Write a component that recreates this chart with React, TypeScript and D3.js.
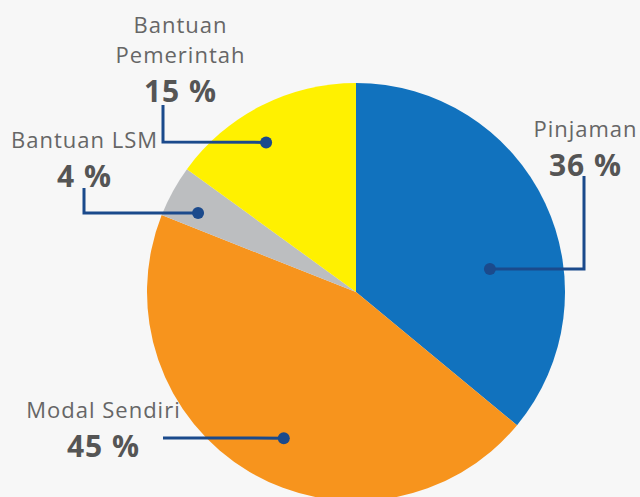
import * as d3 from "d3";
import { useEffect, useRef } from "react";

const WIDTH = 640;
const HEIGHT = 497;
const CX = 356;
const CY = 292;
const RADIUS = 209;

// Slices in drawing order, clockwise from 12 o'clock.
const CATEGORIES = ["Pinjaman", "Modal Sendiri", "Bantuan LSM", "Bantuan Pemerintah"];
const VALUES = [36, 45, 4, 15];
const COLORS = ["#1172be", "#f7941d", "#bcbec0", "#fff100"];
// Label lines (category names can wrap).
const LABEL_LINES = [["Pinjaman"], ["Modal Sendiri"], ["Bantuan LSM"], ["Bantuan", "Pemerintah"]];

// Leader layout: dot in polar terms (deg clockwise from top, radius fraction),
// then an elbow to the label block.
const LEADERS = [
  { angle: 80.3, rf: 0.65, elbow: [584, 269], end: [584, 176], text: [585, 137] },
  { angle: 206.3, rf: 0.78, elbow: [163, 438], end: [163, 438], text: [103, 418] },
  { angle: 296.6, rf: 0.845, elbow: [84, 213], end: [84, 188], text: [84, 148] },
  { angle: 329, rf: 0.835, elbow: [163, 142], end: [163, 105], text: [180, 63] },
];

const LINE_COLOR = "#1b4a8c";
const NAME_SPACING = 1;
const VALUE_SPACING = 1;

export default function App() {
  const ref = useRef<SVGSVGElement>(null);

  useEffect(() => {
    const svg = d3.select(ref.current);
    svg.selectAll("*").remove();
    svg.append("rect").attr("width", WIDTH).attr("height", HEIGHT).attr("fill", "#f7f7f7");

    const pie = d3.pie<number>().sort(null).value((d) => d);
    const arcs = pie(VALUES);
    const arc = d3.arc<d3.PieArcDatum<number>>().innerRadius(0).outerRadius(RADIUS);

    const g = svg.append("g").attr("transform", `translate(${CX},${CY})`);
    g.selectAll("path")
      .data(arcs)
      .join("path")
      .attr("d", arc)
      .attr("fill", (_, i) => COLORS[i]);

    const font = "'Open Sans', 'Noto Sans', sans-serif";
    CATEGORIES.forEach((name, i) => {
      const L = LEADERS[i];
      const a = (L.angle * Math.PI) / 180;
      const dx = CX + Math.sin(a) * RADIUS * L.rf;
      const dy = CY - Math.cos(a) * RADIUS * L.rf;
      svg
        .append("polyline")
        .attr("points", `${dx},${dy} ${L.elbow[0]},${L.elbow[1]} ${L.end[0]},${L.end[1]}`)
        .attr("fill", "none")
        .attr("stroke", LINE_COLOR)
        .attr("stroke-width", 3);
      svg.append("circle").attr("cx", dx).attr("cy", dy).attr("r", 6).attr("fill", LINE_COLOR);

      // letter-spacing adds a trailing gap, so nudge centred text by half of it
      const lines = LABEL_LINES[i];
      const t = svg
        .append("text")
        .attr("text-anchor", "middle")
        .attr("font-family", font)
        .attr("letter-spacing", NAME_SPACING)
        .attr("data-name", name);
      lines.forEach((ln, j) => {
        t.append("tspan")
          .attr("x", L.text[0] + NAME_SPACING / 2)
          .attr("y", L.text[1] - (lines.length - 1 - j) * 30)
          .attr("font-size", 22)
          .attr("fill", "#666")
          .text(ln);
      });
      svg
        .append("text")
        .attr("x", L.text[0] + VALUE_SPACING / 2)
        .attr("y", L.text[1] + 39)
        .attr("text-anchor", "middle")
        .attr("font-family", font)
        .attr("font-size", 30)
        .attr("font-weight", 700)
        .attr("letter-spacing", VALUE_SPACING)
        .attr("fill", "#555")
        .text(`${VALUES[i]} %`);
    });
  }, []);

  return (
    <svg
      ref={ref}
      width={WIDTH}
      height={HEIGHT}
      style={{ position: "absolute", left: 0, top: 0, display: "block" }}
    />
  );
}
